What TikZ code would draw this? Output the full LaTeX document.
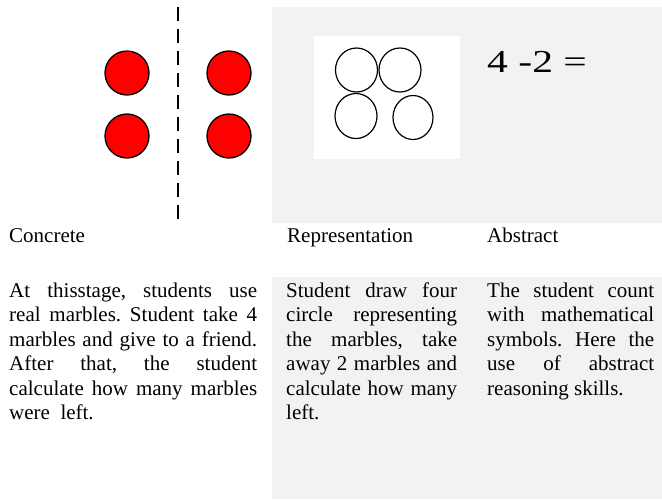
\documentclass[tikz,border=0pt]{standalone}
\usepackage{fontspec}
\setmainfont{Liberation Serif}
\usetikzlibrary{positioning}
\usepackage{xcolor}

\definecolor{panelgray}{HTML}{F2F2F2}
\definecolor{marblered}{HTML}{FF0000}

\frenchspacing
\tolerance=10000
\hyphenpenalty=10000

\begin{document}
\begin{tikzpicture}[
    x=1pt,
    y=-1pt,
    every node/.style={
        font=\fontsize{21}{24.5}\selectfont,
        inner sep=0pt
    },
    panel/.style={
        fill=panelgray,
        draw=none
    },
    divider/.style={
        draw=black,
        line width=1.8pt,
        dash pattern=on 14pt off 8pt
    },
    marble/.style={
        circle,
        draw=black,
        line width=1.3pt,
        fill=marblered,
        minimum size=44pt
    },
    sketch/.style={
        draw=black,
        line width=1.2pt
    },
    heading/.style={
        anchor=base west
    },
    bodytext/.style={
        anchor=base west,
        align=justify,
        text width=#1
    }
]

\useasboundingbox (0,0) rectangle (662,499);

% ============================================================
% PANELS
% ============================================================

\fill[panel] (272,7) rectangle (662,223);
\fill[panel] (272,277) rectangle (662,499);

% ============================================================
% CONCRETE
% ============================================================

\draw[divider] (178,7) -- (178,220);

\node[marble] (marbleA) at (127,73) {};
\node[marble] (marbleB) at (229,73) {};
\node[marble] (marbleC) at (127,136) {};
\node[marble] (marbleD) at (229,136) {};

% ============================================================
% REPRESENTATION
% ============================================================

\fill[white] (314,36) rectangle (460,159);

\draw[sketch] (356.5,70) ellipse [x radius=21, y radius=22];
\draw[sketch] (400,70) ellipse [x radius=21, y radius=22];
\draw[sketch] (356,116) ellipse [x radius=21, y radius=22.5];
\draw[sketch] (413,117.5) ellipse [x radius=20, y radius=22];

% ============================================================
% ABSTRACT
% ============================================================

\node[
    anchor=base west,
    font=\fontsize{32}{36}\selectfont
] (sum) at (487,72)
{\scalebox{1.3}[1]{4 -2 =}};

% ============================================================
% TITLES AND TEXTS
% ============================================================

\node[heading] (concrete) at (9,242) {Concrete};
\node[heading] (representation) at (287,242) {Representation};
\node[heading] (abstract) at (487,242) {Abstract};

\node[bodytext=248pt] (concretetext) at (9,297)
{
At thisstage, students use\linebreak
real marbles. Student take 4\linebreak
marbles and give to a friend.\linebreak
After that, the student\linebreak
calculate how many marbles\linebreak
were~~left.
};

\node[bodytext=171pt] (representationtext) at (286,297)
{
Student draw four\linebreak
circle representing\linebreak
the marbles, take\linebreak
away 2 marbles and\linebreak
calculate how many\linebreak
left.
};

\node[bodytext=167pt] (abstracttext) at (487,297)
{
The student count\linebreak
with mathematical\linebreak
symbols. Here the\linebreak
use of abstract\linebreak
reasoning skills.
};

\end{tikzpicture}
\end{document}
